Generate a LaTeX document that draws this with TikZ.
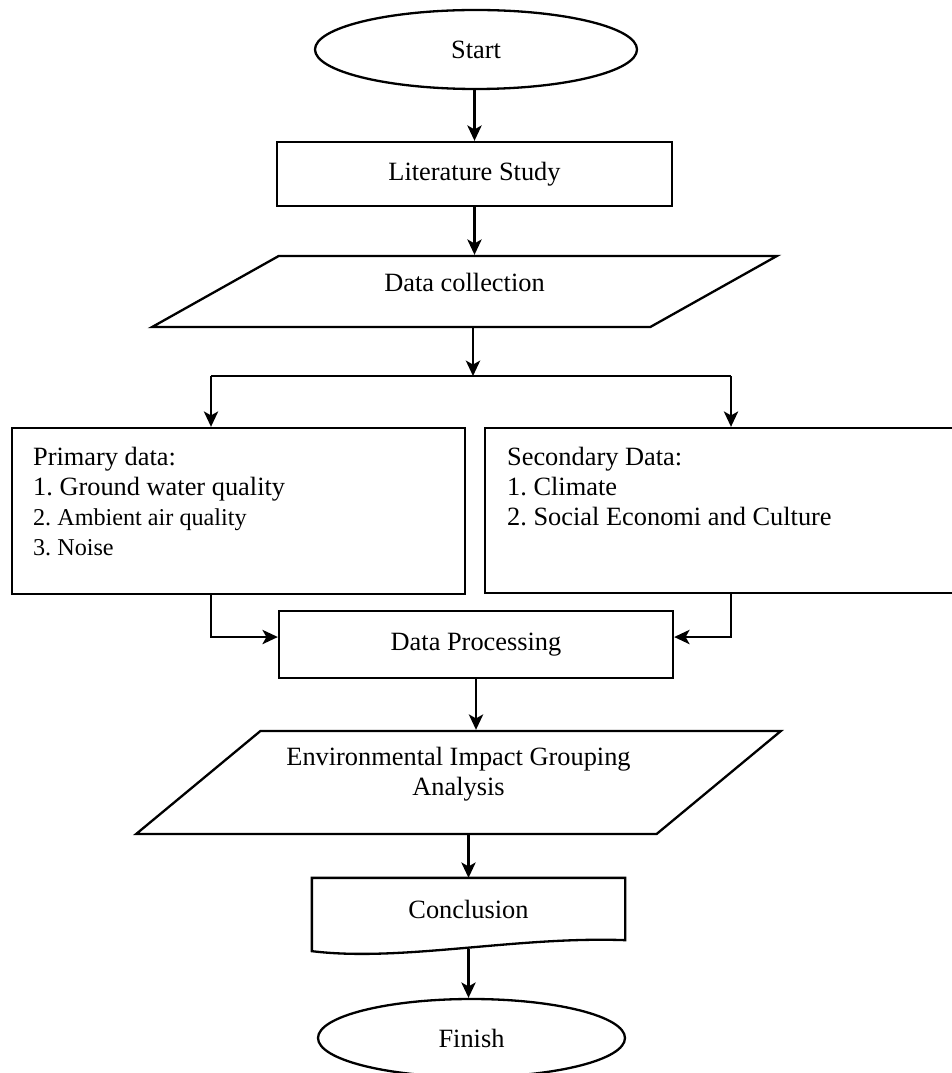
\documentclass[tikz,border=0pt]{standalone}
\usepackage{fontspec}
\setmainfont{Liberation Serif}
\usetikzlibrary{shapes.geometric,arrows.meta}
\newlength\pxu
\setlength\pxu{0.455pt}
\newcommand{\itemfont}{\fontsize{11pt}{12.7pt}\selectfont}
\frenchspacing

\begin{document}
\begin{tikzpicture}[x=\pxu, y=-\pxu, line width=1.05pt,
    every node/.style={font=\fontsize{12pt}{13.7pt}\selectfont, inner sep=0pt},
    terminal/.style={draw, ellipse},
    process/.style={draw, rectangle},
    inout/.style={draw, trapezium, trapezium stretches=true},
    arr/.style={-{Stealth[length=7pt,width=6.5pt,inset=1.8pt]}}]
    \useasboundingbox (0,0) rectangle (951,1073);

    \node[terminal, minimum width=322\pxu, minimum height=79\pxu] (start) at (476,49.5) {Start};
    \node[process, minimum width=395\pxu, minimum height=64\pxu] (lit) at (474.5,174) {Literature Study};
    \node[inout, trapezium left angle=33.3, trapezium right angle=146.7,
        minimum width=625\pxu, minimum height=71\pxu, text depth=8pt] (dc) at (464.5,291.5) {Data collection};

    \node[process, minimum width=453\pxu, minimum height=166\pxu] (prim) at (238.5,511) {};
    \node[process, minimum width=473\pxu, minimum height=165\pxu] (sec) at (721.5,510.5) {};
    \node[anchor=north west, align=left] (primtxt) at (32,446)
        {Primary data:\\1. Ground water quality\\{\itemfont 2. Ambient air quality}\\{\itemfont 3. Noise}};
    \node[anchor=north west, align=left] (sectxt) at (506,446)
        {Secondary Data:\\1. Climate\\2. Social Economi and Culture};

    \node[process, minimum width=394\pxu, minimum height=67\pxu] (dp) at (476,644.5) {Data Processing};
    \node[inout, trapezium left angle=33.1, trapezium right angle=146.9,
        minimum width=645\pxu, minimum height=103\pxu, align=center, text depth=10pt] (env) at (458.5,782.5)
        {Environmental Impact Grouping\\Analysis};
    \node[minimum width=311\pxu, minimum height=60\pxu] (concl) at (468.5,909) {Conclusion};
    \node[terminal, minimum width=307\pxu, minimum height=78\pxu] (fin) at (471.5,1038) {Finish};

    % document shape
    \draw (concl.north west) -- (concl.north east) -- (concl.south east)
        .. controls ([shift={(-110,-4)}]concl.south east) and ([shift={(90,22)}]concl.south west)
        .. ([shift={(0,11)}]concl.south west) -- cycle;

    \coordinate (fork) at (473,376);
    \coordinate (forkL) at (211,376);
    \coordinate (forkR) at (731,376);
    \coordinate (cbot) at ([yshift=-9\pxu]concl.south);

    \draw[arr] (lit.north |- start.south) -- (lit.north);
    \draw[arr] (lit.south) -- (lit.south |- dc.north);
    \draw[arr] (fork |- dc.south) -- (fork);
    \draw (forkL) -- (forkR);
    \draw[arr] (forkL) -- (forkL |- prim.north);
    \draw[arr] (forkR) -- (forkR |- sec.north);
    \draw[arr] (prim.south -| forkL) |- ([yshift=3.4pt]dp.west);
    \draw[arr] (sec.south -| forkR) |- ([yshift=3.4pt]dp.east);
    \draw[arr] (dp.south) -- (dp.south |- env.north);
    \draw[arr] (concl.north |- env.south) -- (concl.north);
    \draw[arr] (cbot) -- (cbot |- fin.north);
\end{tikzpicture}
\end{document}
